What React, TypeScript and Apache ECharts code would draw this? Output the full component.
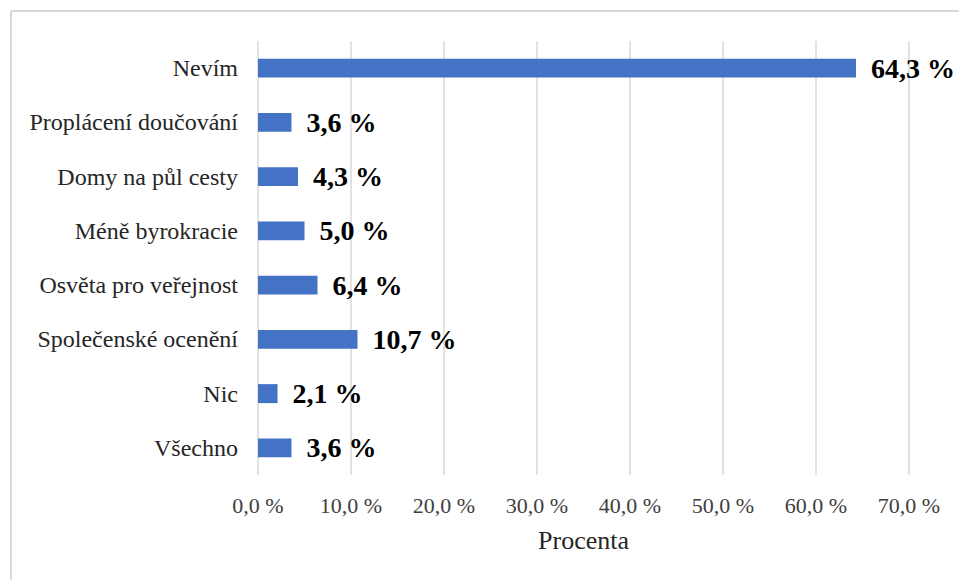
import React, { useEffect, useRef } from "react";
import * as echarts from "echarts";

const categories = [
  "Nevím",
  "Proplácení doučování",
  "Domy na půl cesty",
  "Méně byrokracie",
  "Osvěta pro veřejnost",
  "Společenské ocenění",
  "Nic",
  "Všechno",
];
const values = [64.3, 3.6, 4.3, 5.0, 6.4, 10.7, 2.1, 3.6];
const axisMin = 0;
const axisMax = 70;
const axisStep = 10;
const axisTitle = "Procenta";

const fmt = (v: number) => v.toFixed(1).replace(".", ",") + " %";
const FONT = "Liberation Serif";

export default function App() {
  const ref = useRef<HTMLDivElement>(null);
  useEffect(() => {
    if (!ref.current) return;
    const chart = echarts.init(ref.current, undefined, { renderer: "svg" });
    chart.setOption({
      animation: false,
      backgroundColor: "#ffffff",
      textStyle: { fontFamily: FONT },
      grid: { left: 258, right: 50, top: 41, bottom: 105, containLabel: false },
      graphic: [
        {
          type: "line",
          shape: { x1: 11, y1: 11, x2: 959, y2: 11 },
          style: { stroke: "#d9d9d9", lineWidth: 2 },
          silent: true,
        },
        {
          type: "line",
          shape: { x1: 11, y1: 11, x2: 11, y2: 580 },
          style: { stroke: "#d9d9d9", lineWidth: 2 },
          silent: true,
        },
      ],
      xAxis: {
        type: "value",
        min: axisMin,
        max: axisMax,
        interval: axisStep,
        axisLine: { show: false },
        axisTick: { show: false },
        splitLine: { show: true, lineStyle: { color: "#d9d9d9", width: 1.5 } },
        axisLabel: {
          formatter: (v: number) => fmt(v),
          fontFamily: FONT,
          fontSize: 22,
          color: "#404040",
          margin: 19,
        },
        name: axisTitle,
        nameLocation: "middle",
        nameGap: 52,
        nameTextStyle: { fontFamily: FONT, fontSize: 26, color: "#262626" },
      },
      yAxis: {
        type: "category",
        data: categories,
        inverse: true,
        axisLine: { show: false },
        axisTick: { show: false },
        splitLine: { show: false },
        axisLabel: {
          fontFamily: FONT,
          fontSize: 24,
          color: "#262626",
          margin: 20,
        },
      },
      series: [
        {
          type: "bar",
          data: values,
          barWidth: "35%",
          itemStyle: { color: "#4472c4" },
          label: {
            show: true,
            position: "right",
            distance: 15,
            formatter: (p: any) => fmt(p.value),
            fontFamily: FONT,
            fontSize: 28,
            fontWeight: "bold",
            color: "#000000",
          },
        },
      ],
    });
    return () => chart.dispose();
  }, []);
  return (
    <div
      ref={ref}
      style={{ position: "fixed", left: 0, top: 0, width: 959, height: 580 }}
    />
  );
}
